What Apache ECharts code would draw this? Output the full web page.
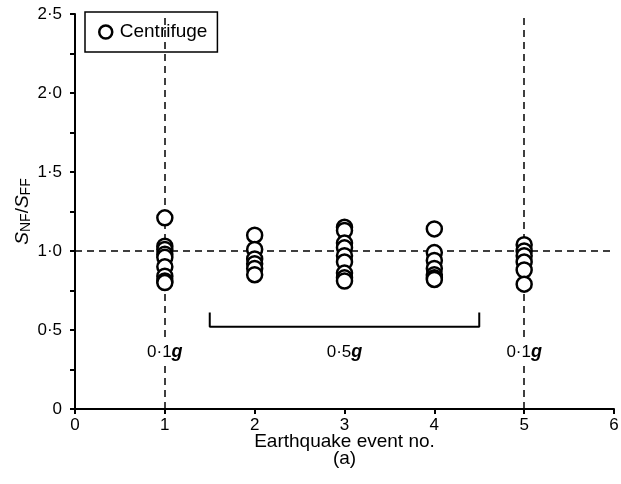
<!DOCTYPE html>
<html>
<head>
<meta charset="utf-8">
<script src="https://cdn.jsdelivr.net/npm/echarts@6/dist/echarts.min.js"></script>
<style>
  html, body { margin: 0; padding: 0; background: #fff; }
  #chart { width: 621px; height: 484px; }
</style>
</head>
<body>
<div id="chart"></div>
<script>
// Settlement ratio S_NF/S_FF for each earthquake event
const eventNo = [1, 2, 3, 4, 5];
const event1 = [1.21, 1.03, 1.01, 0.98, 0.96, 0.90, 0.84, 0.81, 0.80];
const event2 = [1.10, 1.01, 0.95, 0.92, 0.89, 0.85];
const event3 = [1.15, 1.13, 1.05, 1.02, 0.97, 0.93, 0.86, 0.83, 0.81];
const event4 = [1.14, 0.99, 0.94, 0.89, 0.85, 0.83, 0.82];
const event5 = [1.04, 1.00, 0.97, 0.93, 0.88, 0.79];
const eventValues = [event1, event2, event3, event4, event5];

// Reference lines and annotations
const unityRatio = 1.0;
const lowShakingEvents = [1, 5];
const bracketX = [1.5, 4.5];
const bracketY = [0.52, 0.61];
const intensityLabels = [
  { x: 1, y: 0.36, num: '0·1' },
  { x: 3, y: 0.36, num: '0·5' },
  { x: 5, y: 0.36, num: '0·1' }
];

const points = [];
eventNo.forEach((e, i) => eventValues[i].forEach(v => points.push([e, v])));

const fmt = v => (v === 0 ? '0' : v.toFixed(1).replace('.', '·'));
const font = '"Liberation Sans", Arial, sans-serif';

const chart = echarts.init(document.getElementById('chart'), null, { renderer: 'canvas' });
chart.setOption({
  animation: false,
  backgroundColor: '#fff',
  textStyle: { fontFamily: font },
  grid: { left: 75, right: 7, top: 14, bottom: 75, containLabel: false, outerBoundsMode: 'none' },
  legend: {
    left: 85, top: 12,
    padding: [10, 10, 10, 13],
    borderColor: '#000', borderWidth: 1.5,
    backgroundColor: '#fff',
    itemWidth: 18, itemHeight: 13, itemGap: 6,
    textStyle: { fontFamily: font, fontSize: 19, lineHeight: 20, color: '#000' },
    data: [{ name: 'Centrifuge', icon: 'circle', itemStyle: { color: '#fff', borderColor: '#000', borderWidth: 2.5 } }]
  },
  xAxis: {
    type: 'value', min: 0, max: 6, interval: 1,
    name: 'Earthquake event no.\n(a)',
    nameLocation: 'middle', nameGap: 24, nameMoveOverlap: false,
    nameTextStyle: { fontFamily: font, fontSize: 19, color: '#000', lineHeight: 17 },
    axisLine: { show: true, onZero: false, lineStyle: { color: '#000', width: 2 } },
    axisTick: { show: true, inside: false, length: 5, lineStyle: { color: '#000', width: 2 } },
    axisLabel: { fontFamily: font, fontSize: 17, color: '#000', margin: 8 },
    splitLine: { show: false }
  },
  yAxis: {
    type: 'value', min: 0, max: 2.5, interval: 0.5,
    name: '{it|S}{sub|NF}{n|/}{it|S}{sub|FF}',
    nameLocation: 'middle', nameGap: 42, nameRotate: 90, nameMoveOverlap: false,
    nameTextStyle: {
      rich: {
        it: { fontFamily: font, fontSize: 19, fontStyle: 'italic', color: '#000' },
        n: { fontFamily: font, fontSize: 19, color: '#000' },
        sub: { fontFamily: font, fontSize: 14, color: '#000', verticalAlign: 'bottom', padding: [7, 0, 0, 0] }
      }
    },
    axisLine: { show: true, lineStyle: { color: '#000', width: 2 } },
    axisTick: { show: true, inside: false, length: 5, lineStyle: { color: '#000', width: 2 } },
    minorTick: { show: true, splitNumber: 2, length: 5, lineStyle: { color: '#000', width: 2 } },
    axisLabel: { fontFamily: font, fontSize: 17, color: '#000', margin: 13, formatter: fmt },
    splitLine: { show: false }
  },
  series: [
    {
      name: 'Centrifuge',
      type: 'scatter',
      data: points,
      symbol: 'circle',
      symbolSize: 15,
      itemStyle: { color: '#fff', borderColor: '#000', borderWidth: 2.5, opacity: 1 },
      z: 5,
      markLine: {
        silent: true,
        symbol: ['none', 'none'],
        label: { show: false },
        lineStyle: { color: '#000', width: 1.5, type: [7, 5] },
        data: [{ yAxis: unityRatio }].concat(lowShakingEvents.map(x => ({ xAxis: x })))
      }
    },
    {
      name: 'bracket',
      type: 'line',
      data: [[bracketX[0], bracketY[1]], [bracketX[0], bracketY[0]], [bracketX[1], bracketY[0]], [bracketX[1], bracketY[1]]],
      symbol: 'none',
      lineStyle: { color: '#000', width: 2 },
      silent: true,
      z: 3
    },
    {
      name: 'intensity',
      type: 'scatter',
      data: intensityLabels.map(d => [d.x, d.y]),
      symbolSize: 0,
      silent: true,
      itemStyle: { opacity: 1 },
      label: {
        show: true,
        position: 'inside',
        backgroundColor: '#fff',
        padding: [4, 3],
        formatter: p => '{n|' + intensityLabels[p.dataIndex].num + '}{g|g}',
        rich: {
          n: { fontFamily: font, fontSize: 17, color: '#000' },
          g: { fontFamily: font, fontSize: 18, color: '#000', fontStyle: 'italic', fontWeight: 'bold' }
        }
      },
      z: 10
    }
  ]
});
</script>
</body>
</html>
